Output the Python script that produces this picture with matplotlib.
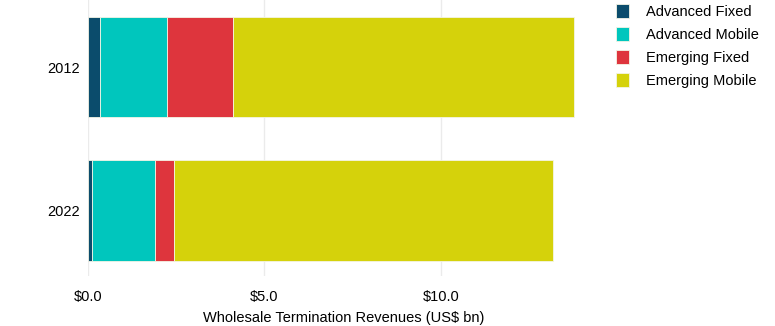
import numpy as np
import matplotlib.pyplot as plt

plt.rcParams['font.family'] = ['Liberation Sans', 'DejaVu Sans']

years = ['2012', '2022']
segments = ['Advanced Fixed', 'Advanced Mobile', 'Emerging Fixed', 'Emerging Mobile']
adv_fixed = [0.35, 0.11]
adv_mobile = [1.90, 1.80]
emg_fixed = [1.85, 0.53]
emg_mobile = [9.68, 10.73]
colors = ['#0b4c6c', '#00c6bd', '#de353d', '#d5d20b']

fig = plt.figure(figsize=(7.75, 3.26), dpi=100)
ax = fig.add_axes([0.1135, 0.152, 0.66, 0.848])

y = np.arange(len(years))
left = np.zeros(len(years))
for name, vals, c in zip(segments, [adv_fixed, adv_mobile, emg_fixed, emg_mobile], colors):
    ax.barh(y, vals, left=left, height=0.7, color=c, edgecolor='#f4f4e6',
            linewidth=0.6, label=name, zorder=3)
    left += np.array(vals)

ax.set_yticks(y)
ax.set_yticklabels(years)
ax.set_ylim(1.46, -0.47)
ax.set_xlim(0, 14.5)
ax.set_xticks([0, 5, 10])
ax.set_xticklabels(['$0.0', '$5.0', '$10.0'])
ax.grid(axis='x', color='#ebebeb', linewidth=1, zorder=0)
ax.tick_params(length=0, labelsize=10.5)
ax.tick_params(axis='y', pad=6)
ax.tick_params(axis='x', pad=10)
for s in ax.spines.values():
    s.set_visible(False)
ax.set_xlabel('Wholesale Termination Revenues (US$ bn)', fontsize=10.5, labelpad=4.5)

ax.legend(loc='upper left', bbox_to_anchor=(1.006, 1.032), frameon=False,
          fontsize=10.5, handlelength=0.9, handleheight=1.1, handletextpad=1.2,
          labelspacing=0.55)

fig.savefig('out.png', dpi=100)
